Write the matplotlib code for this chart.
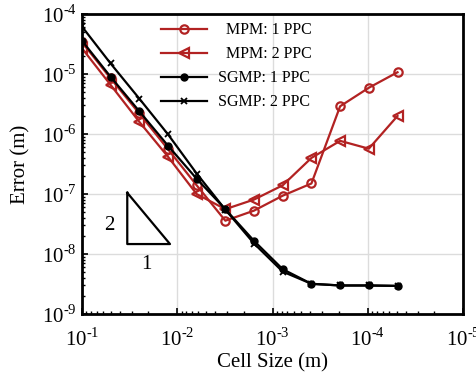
import numpy as np
import matplotlib
matplotlib.use("Agg")
import matplotlib.pyplot as plt
from matplotlib.ticker import LogLocator, FuncFormatter, NullFormatter

plt.rcParams['font.family'] = ['Liberation Serif', 'DejaVu Serif']
plt.rcParams['mathtext.fontset'] = 'custom'
plt.rcParams['mathtext.rm'] = 'Liberation Serif'
plt.rcParams['axes.unicode_minus'] = False

# cell sizes (m)
cell = [1e-1, 5e-2, 2.5e-2, 1.25e-2, 6.25e-3, 3.125e-3, 1.5625e-3,
        7.8125e-4, 3.90625e-4, 1.953125e-4, 9.765625e-5, 4.8828125e-5]

# errors (m)
mpm_1ppc = [3.4e-5, 8.5e-6, 2.2e-6, 5.6e-7, 1.4e-7, 3.6e-8, 5.3e-8,
            9.4e-8, 1.5e-7, 2.9e-6, 5.9e-6, 1.07e-5]
mpm_2ppc = [2.7e-5, 6.6e-6, 1.6e-6, 4.2e-7, 1.0e-7, 5.6e-8, 8.1e-8,
            1.4e-7, 4.0e-7, 7.7e-7, 5.7e-7, 2.0e-6]
sgmp_1ppc = [3.6e-5, 9.0e-6, 2.4e-6, 6.4e-7, 1.8e-7, 5.6e-8, 1.66e-8,
             5.6e-9, 3.2e-9, 3.0e-9, 3.0e-9, 2.95e-9]
sgmp_2ppc = [6.2e-5, 1.5e-5, 3.9e-6, 9.9e-7, 2.2e-7, 5.5e-8, 1.5e-8,
             5.1e-9, 3.2e-9, 3.0e-9, 3.0e-9, 2.95e-9]

# slope triangle corners
tri_x = [0.0334, 0.0334, 0.0119, 0.0334]
tri_y = [1.05e-7, 1.47e-8, 1.47e-8, 1.05e-7]

red = '#b22222'

fig = plt.figure(figsize=(4.76, 3.78), dpi=100)
ax = fig.add_axes([0.172, 0.169, 0.801, 0.794])

ax.plot(cell, mpm_1ppc, color=red, lw=1.6, marker='o', ms=6, mfc='none', mew=1.6,
        label='  MPM: 1 PPC')
ax.plot(cell, mpm_2ppc, color=red, lw=1.6, marker='<', ms=7, mfc='none', mew=1.6,
        label='  MPM: 2 PPC')
ax.plot(cell, sgmp_1ppc, color='black', lw=1.6, marker='o', ms=5,
        label='SGMP: 1 PPC')
ax.plot(cell, sgmp_2ppc, color='black', lw=1.6, marker='x', ms=4, mew=1.3,
        label='SGMP: 2 PPC')

ax.plot(tri_x, tri_y, color='black', lw=1.6)
ax.text(0.052, 3.0e-8, '2', fontsize=15, ha='center', va='center')
ax.text(0.0213, 6.8e-9, '1', fontsize=15, ha='center', va='center')

ax.set_xscale('log')
ax.set_yscale('log')
ax.set_xlim(1e-1, 1e-5)
ax.set_ylim(1e-9, 1e-4)

def fmt(v, pos):
    e = int(round(np.log10(v)))
    return r'10$^{\text{%d}}$' % e

ax.xaxis.set_major_locator(LogLocator(base=10, numticks=10))
ax.yaxis.set_major_locator(LogLocator(base=10, numticks=10))
ax.xaxis.set_major_formatter(FuncFormatter(fmt))
ax.yaxis.set_major_formatter(FuncFormatter(fmt))
ax.xaxis.set_minor_locator(LogLocator(base=10, subs=np.arange(2, 10), numticks=20))
ax.yaxis.set_minor_locator(LogLocator(base=10, subs=np.arange(2, 10), numticks=20))
ax.xaxis.set_minor_formatter(NullFormatter())
ax.yaxis.set_minor_formatter(NullFormatter())

ax.tick_params(which='both', direction='in', labelsize=15, top=False, right=False)
ax.tick_params(which='major', length=4, width=1.2)
ax.tick_params(which='minor', length=2.5, width=1.0)
ax.tick_params(axis='x', pad=10)

ax.grid(True, which='major', color='#dcdcdc', lw=1.0)
ax.set_axisbelow(True)
for s in ax.spines.values():
    s.set_linewidth(2)

ax.set_xlabel('Cell Size (m)', fontsize=15, labelpad=2)
ax.set_ylabel('Error (m)', fontsize=15, labelpad=8)

ax.legend(loc='upper left', bbox_to_anchor=(0.207, 0.972), frameon=False, fontsize=11.5,
          handlelength=2.9, labelspacing=0.5, handletextpad=0.7,
          borderaxespad=0, borderpad=0)

fig.savefig('out.png', dpi=100)
